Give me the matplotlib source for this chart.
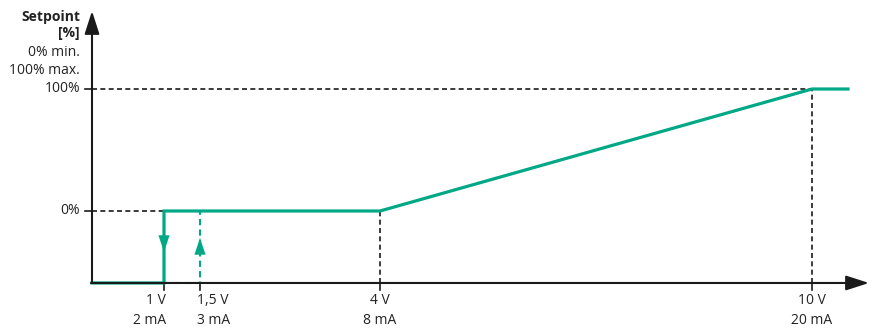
import matplotlib
matplotlib.use("Agg")
import matplotlib.pyplot as plt

# curve (input voltage -> setpoint %), "off" drawn on the x axis
volts = [0, 1, 1, 4, 10, 10.5]
off_level = -59
setpoint = [off_level, off_level, 0, 0, 100, 100]

# switch-on path (hysteresis)
on_volts = [1, 1.5, 1.5]
on_setpoint = [off_level, off_level, 0]

tick_volts = [1, 1.5, 4, 10]
tick_v_labels = ["1 V", "1,5 V", "4 V", "10 V"]
tick_ma_labels = ["2 mA", "3 mA", "8 mA", "20 mA"]
tick_align = ["right", "left", "center", "center"]

y_ticks = [0, 100]
y_tick_labels = ["0%", "100%"]
y_title = ["Setpoint", "[%]"]
y_notes = ["0% min.", "100% max."]

green = "#00a886"
plt.rcParams["font.family"] = ["Open Sans", "DejaVu Sans"]
fs = 10

fig = plt.figure(figsize=(8.76, 3.29), dpi=100)
ax = fig.add_axes([0, 0, 1, 1])
# pixel x = 92 + 72*V ; pixel y = 211 - 1.22*P
ax.set_xlim(-92 / 72, (876 - 92) / 72)
ax.set_ylim((211 - 329) / 1.22, 211 / 1.22)
ax.axis("off")

px = 1 / 72.0      # one pixel in volts
py = 1 / 1.22      # one pixel in percent

# axes with arrows
x_end = 10.5 + 21 * px
y_top = 200 * py
ax.annotate("", xy=(x_end, off_level), xytext=(-px, off_level),
            arrowprops=dict(arrowstyle="-|>,head_length=1.4,head_width=0.45",
                            color="#1a1a1a", lw=1.5, shrinkA=0, shrinkB=0))
ax.annotate("", xy=(0, y_top), xytext=(0, off_level - px),
            arrowprops=dict(arrowstyle="-|>,head_length=1.4,head_width=0.45",
                            color="#1a1a1a", lw=1.5, shrinkA=0, shrinkB=0))

# y ticks and labels
for val, lab in zip(y_ticks, y_tick_labels):
    ax.plot([-7 * px, 0], [val, val], color="#1a1a1a", lw=1.2)
    ax.text(-12 * px, val, lab, ha="right", va="center", fontsize=fs, color="#222222")

ax.text(-12 * px, 194 * py, y_title[0], ha="right", va="center", fontsize=fs,
        fontweight="bold", color="#222222")
ax.text(-12 * px, 178 * py, y_title[1], ha="right", va="center", fontsize=fs,
        fontweight="bold", color="#222222")
ax.text(-12 * px, 159 * py, y_notes[0], ha="right", va="center", fontsize=fs, color="#222222")
ax.text(-12 * px, 140 * py, y_notes[1], ha="right", va="center", fontsize=fs, color="#222222")

# x ticks and labels
for v, lv, lm, al in zip(tick_volts, tick_v_labels, tick_ma_labels, tick_align):
    ax.plot([v, v], [off_level, off_level - 7 * py], color="#1a1a1a", lw=1.2)
    xo = {"right": 2 * px, "left": -3 * px, "center": 0}[al]
    ax.text(v + xo, off_level - 18 * py, lv, ha=al, va="center", fontsize=fs, color="#222222")
    ax.text(v + xo, off_level - 38 * py, lm, ha=al, va="center", fontsize=fs, color="#222222")

# black dashed guides
dash = dict(color="#1a1a1a", lw=1.2, ls=(0, (3, 2)))
ax.plot([0, 1], [0, 0], **dash)
ax.plot([0, 10], [100, 100], **dash)
ax.plot([4, 4], [off_level, 0], **dash)
ax.plot([10, 10], [off_level, 100], **dash)

# switch-on path, dashed green
ax.plot(on_volts, on_setpoint, color=green, lw=1.5, ls=(0, (3, 2)))
ax.annotate("", xy=(1.5, off_level + 45 * py), xytext=(1.5, off_level + 20 * py),
            arrowprops=dict(arrowstyle="-|>,head_length=1.2,head_width=0.4",
                            color=green, lw=0.01, shrinkA=0, shrinkB=0))

# main curve
ax.plot(volts, setpoint, color=green, lw=2.3, solid_joinstyle="miter")
ax.annotate("", xy=(1, off_level + 31 * py), xytext=(1, off_level + 55 * py),
            arrowprops=dict(arrowstyle="-|>,head_length=1.2,head_width=0.4",
                            color=green, lw=0.01, shrinkA=0, shrinkB=0))

fig.savefig("out.png", dpi=100)
